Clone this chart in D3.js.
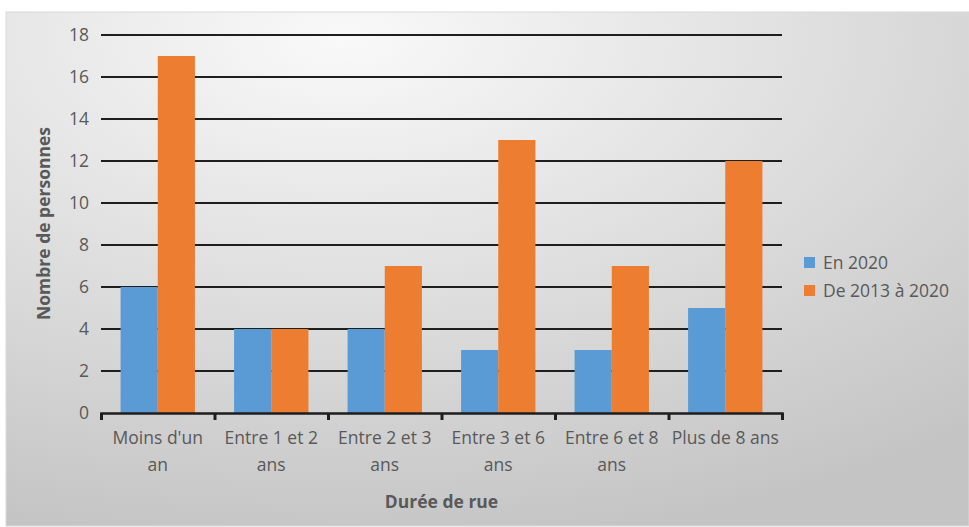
<!DOCTYPE html>
<html>
<head>
<meta charset="utf-8">
<script src="https://cdn.jsdelivr.net/npm/d3@7"></script>
<style>
  body { margin: 0; background: #fff; }
  svg { display: block; }
  text { font-family: "Open Sans", "Noto Sans", sans-serif; }
</style>
</head>
<body>
<div id="vis"></div>
<script>
const WIDTH = 969
const HEIGHT = 527

// data
const categories = [
	['Moins d\'un', 'an'],
	['Entre 1 et 2', 'ans'],
	['Entre 2 et 3', 'ans'],
	['Entre 3 et 6', 'ans'],
	['Entre 6 et 8', 'ans'],
	['Plus de 8 ans']
]
const seriesNames = ['En 2020', 'De 2013 à 2020']
const en2020 = [6, 4, 4, 3, 3, 5]
const de2013 = [17, 4, 7, 13, 7, 12]
const yTicks = [0, 2, 4, 6, 8, 10, 12, 14, 16, 18]
const colors = ['#5b9bd5', '#ed7d31']

const FONT = '17.5px'
const margin = { left: 101, right: 187, top: 35, bottom: 115 }
const plotW = WIDTH - margin.left - margin.right
const plotH = HEIGHT - margin.top - margin.bottom

let svg = d3.select('#vis')
	.append('svg')
	.attr('width', WIDTH)
	.attr('height', HEIGHT)

// background gradient
let defs = svg.append('defs')
let grad = defs.append('radialGradient')
	.attr('id', 'bg')
	.attr('cx', 0.35).attr('cy', 0.05).attr('r', 1.0)
grad.append('stop').attr('offset', '0%').attr('stop-color', '#f9f9f9')
grad.append('stop').attr('offset', '100%').attr('stop-color', '#c4c4c4')

svg.append('rect')
	.attr('x', 6).attr('y', 12)
	.attr('width', WIDTH - 6).attr('height', HEIGHT - 13)
	.attr('fill', 'url(#bg)')
	.attr('stroke', '#d9d9d9')

let g = svg.append('g')
	.attr('transform', `translate(${margin.left},${margin.top})`)

let x = d3.scaleBand()
	.domain(d3.range(categories.length))
	.range([0, plotW])
	.padding(0)

let inner = d3.scaleBand()
	.domain([0, 1])
	.range([0, x.bandwidth() * 0.655])

let y = d3.scaleLinear()
	.domain([0, 18])
	.range([plotH + 1, 0])

// gridlines
g.append('g')
	.selectAll('line')
	.data(yTicks.slice(1))
	.enter()
	.append('line')
	.attr('x1', 0).attr('x2', plotW)
	.attr('y1', d => y(d)).attr('y2', d => y(d))
	.attr('stroke', '#1e1e1e')
	.attr('stroke-width', 2)

// y labels
g.append('g')
	.selectAll('text')
	.data(yTicks)
	.enter()
	.append('text')
	.attr('x', -12)
	.attr('y', d => y(d))
	.attr('dy', '0.35em')
	.attr('text-anchor', 'end')
	.style('font-size', FONT)
	.attr('fill', '#595959')
	.text(d => d)

// bars
const series = [en2020, de2013]
series.forEach((vals, s) => {
	g.append('g')
		.selectAll('rect')
		.data(vals)
		.enter()
		.append('rect')
		.attr('x', (d, i) => x(i) + (x.bandwidth() - inner.range()[1]) / 2 + inner(s))
		.attr('width', inner.bandwidth())
		.attr('y', d => y(d))
		.attr('height', d => y(0) - y(d))
		.attr('fill', colors[s])
})

// x axis
let xAxis = d3.axisBottom(d3.scaleLinear().domain([0, categories.length]).range([0, plotW]))
	.ticks(categories.length)
	.tickSize(7)
	.tickFormat('')
g.append('g')
	.attr('class', 'x-axis')
	.attr('transform', `translate(0,${y(0)})`)
	.call(xAxis)
	.call(a => a.select('.domain').attr('stroke', '#1e1e1e').attr('stroke-width', 2.5))
	.call(a => a.selectAll('.tick line').attr('stroke', '#1e1e1e').attr('stroke-width', 3))

// x labels
let xl = g.append('g')
	.selectAll('text')
	.data(categories)
	.enter()
	.append('text')
	.attr('x', (d, i) => x(i) + x.bandwidth() / 2)
	.attr('y', plotH + 32)
	.attr('text-anchor', 'middle')
	.style('font-size', FONT)
	.attr('fill', '#595959')
xl.selectAll('tspan')
	.data(d => d)
	.enter()
	.append('tspan')
	.attr('x', function () { return d3.select(this.parentNode).attr('x') })
	.attr('dy', (d, i) => i === 0 ? 0 : 27)
	.text(d => d)

// axis titles
svg.append('text')
	.attr('x', margin.left + plotW / 2)
	.attr('y', 508)
	.attr('text-anchor', 'middle')
	.style('font-size', FONT)
	.style('font-weight', 'bold')
	.attr('fill', '#595959')
	.text('Durée de rue')

svg.append('text')
	.attr('transform', `translate(50,${margin.top + plotH / 2}) rotate(-90)`)
	.attr('text-anchor', 'middle')
	.style('font-size', FONT)
	.style('font-weight', 'bold')
	.attr('fill', '#595959')
	.text('Nombre de personnes')

// legend
let legend = svg.append('g')
	.attr('transform', 'translate(804,257)')
legend.selectAll('rect')
	.data(seriesNames)
	.enter()
	.append('rect')
	.attr('x', 0)
	.attr('y', (d, i) => i * 28)
	.attr('width', 11).attr('height', 11)
	.attr('fill', (d, i) => colors[i])
legend.selectAll('text')
	.data(seriesNames)
	.enter()
	.append('text')
	.attr('x', 19)
	.attr('y', (d, i) => i * 28 + 5.5)
	.attr('dy', '0.35em')
	.style('font-size', FONT)
	.attr('fill', '#595959')
	.text(d => d)
</script>
</body>
</html>
